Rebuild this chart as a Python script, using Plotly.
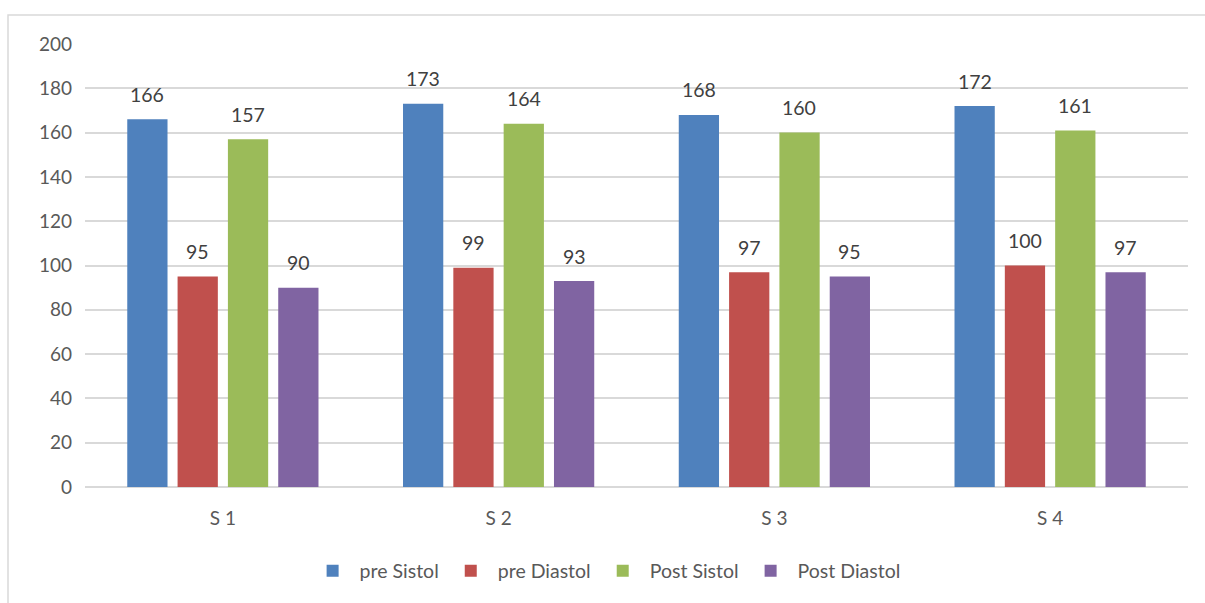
import plotly.graph_objects as go

categories = ["S 1", "S 2", "S 3", "S 4"]
pre_sistol = [166, 173, 168, 172]
pre_diastol = [95, 99, 97, 100]
post_sistol = [157, 164, 160, 161]
post_diastol = [90, 93, 95, 97]

series = [
    ("pre Sistol", pre_sistol, "#4F81BD"),
    ("pre Diastol", pre_diastol, "#C0504D"),
    ("Post Sistol", post_sistol, "#9BBB59"),
    ("Post Diastol", post_diastol, "#8064A2"),
]

FONT = "Lato, 'Open Sans', sans-serif"
TEXT_COLOR = "#595959"
GRID = "#D9D9D9"

fig = go.Figure()
for name, vals, color in series:
    fig.add_trace(go.Bar(
        name=name, x=categories, y=vals,
        marker=dict(color=color, line=dict(width=0)),
    ))

# value labels above each bar (grouped-bar pixel offsets)
offsets = [-75.4, -25.1, 25.1, 75.4]
for (name, vals, color), dx in zip(series, offsets):
    for cat, v in zip(categories, vals):
        fig.add_annotation(
            x=cat, y=v, text=str(v), showarrow=False,
            xshift=dx, yshift=25, yanchor="middle",
            font=dict(family=FONT, size=19.5, color="#404040"),
        )

# outer chart frame
fig.add_shape(type="rect", xref="paper", yref="paper",
              x0=-0.0698, x1=1.2, y0=-0.6, y1=1.0652,
              line=dict(color=GRID, width=1.5), layer="below")

fig.update_layout(
    width=1205, height=603,
    margin=dict(l=85, r=17, t=44, b=112),
    paper_bgcolor="white", plot_bgcolor="white",
    barmode="group", bargap=0.27, bargroupgap=0.2,
    font=dict(family=FONT, size=19, color=TEXT_COLOR),
    legend=dict(orientation="h", x=0.472, xanchor="center", y=-0.19, yanchor="middle",
                font=dict(family=FONT, size=19.5, color=TEXT_COLOR),
                itemwidth=44, traceorder="normal"),
    xaxis=dict(showgrid=False, showline=False, ticks="", ticklabelstandoff=18,
               tickfont=dict(family=FONT, size=19, color=TEXT_COLOR)),
    yaxis=dict(range=[0, 200], dtick=20, showgrid=True, gridcolor=GRID, gridwidth=1.5,
               zeroline=True, zerolinecolor=GRID, zerolinewidth=1.5,
               showline=False, ticks="", ticklabelstandoff=12,
               tickfont=dict(family=FONT, size=19, color=TEXT_COLOR)),
)

fig.write_html("out.html")
